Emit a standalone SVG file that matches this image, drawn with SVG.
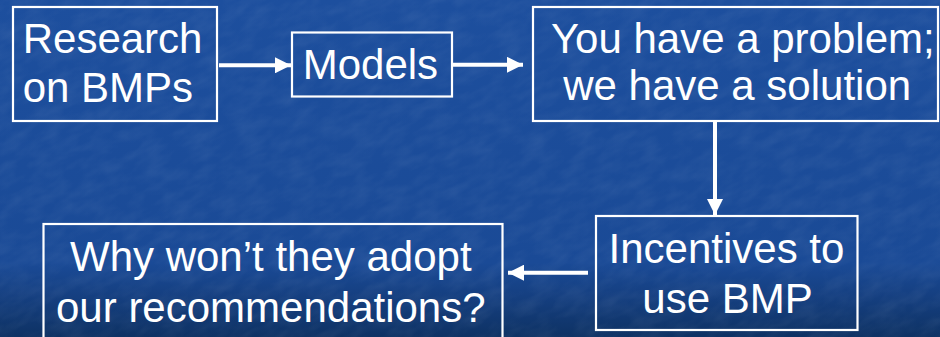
<svg xmlns="http://www.w3.org/2000/svg" width="940" height="337" viewBox="0 0 940 337">
  <style>
    .box { fill: none; stroke: #ffffff; stroke-width: 2.2; }
    .lbl { font-family: "Liberation Sans", Arial, sans-serif; font-size: 42px; fill: #ffffff; text-anchor: middle; }
    .conn { stroke: #ffffff; stroke-width: 4; fill: none; marker-end: url(#arr); }
  </style>
  <defs>
    <linearGradient id="bg" x1="0" y1="0" x2="0" y2="1">
      <stop offset="0" stop-color="#1d4f9e"/>
      <stop offset="0.78" stop-color="#1a4a96"/>
      <stop offset="0.88" stop-color="#153f80"/>
      <stop offset="1" stop-color="#0e3264"/>
    </linearGradient>
    <filter id="tex" x="0" y="0" width="100%" height="100%">
      <feTurbulence type="fractalNoise" baseFrequency="0.04 0.09" numOctaves="3" seed="4" result="n"/>
      <feColorMatrix in="n" type="matrix" values="0 0 0 0 1  0 0 0 0 1  0 0 0 0 1  0 0 0 0.35 -0.12"/>
    </filter>
    <marker id="arr" markerUnits="userSpaceOnUse" markerWidth="16" markerHeight="16" viewBox="0 0 14 14" refX="14" refY="7" orient="auto">
      <path d="M0,0 L14,7 L0,14 Z" fill="#ffffff"/>
    </marker>
  </defs>
  <rect x="0" y="0" width="940" height="337" fill="url(#bg)"/>
  <g transform="rotate(-25 470 168)">
    <rect x="-200" y="-300" width="1340" height="940" filter="url(#tex)" opacity="0.45"/>
  </g>
  <rect x="0" y="0" width="940" height="337" fill="url(#bg)" opacity="0.35"/>

  <g id="connectors">
    <line class="conn" x1="219" y1="65.3" x2="291" y2="65.3"/>
    <line class="conn" x1="453" y1="64.8" x2="523" y2="64.8"/>
    <line class="conn" x1="715" y1="122" x2="715" y2="215"/>
    <line class="conn" x1="588" y1="272.7" x2="508" y2="272.7"/>
  </g>

  <g id="research">
    <rect class="box" x="13" y="7" width="204" height="114"/>
    <text class="lbl" x="112.6" y="53.3">Research</text>
    <text class="lbl" x="107.9" y="101.7">on BMPs</text>
  </g>
  <g id="models">
    <rect class="box" x="292" y="32.5" width="160" height="64"/>
    <text class="lbl" x="370.4" y="79">Models</text>
  </g>
  <g id="solution">
    <rect class="box" x="533" y="7" width="405" height="114"/>
    <text class="lbl" x="742.8" y="52.7">You have a problem;</text>
    <text class="lbl" x="737.2" y="100">we have a solution</text>
  </g>
  <g id="incentives">
    <rect class="box" x="596" y="216" width="261.5" height="114"/>
    <text class="lbl" x="726.5" y="263.3">Incentives to</text>
    <text class="lbl" x="727.5" y="313.3">use BMP</text>
  </g>
  <g id="adopt">
    <rect class="box" x="43.5" y="224" width="459" height="120"/>
    <text class="lbl" x="270.8" y="271">Why won’t they adopt</text>
    <text class="lbl" x="270.8" y="321.7">our recommendations?</text>
  </g>
</svg>
